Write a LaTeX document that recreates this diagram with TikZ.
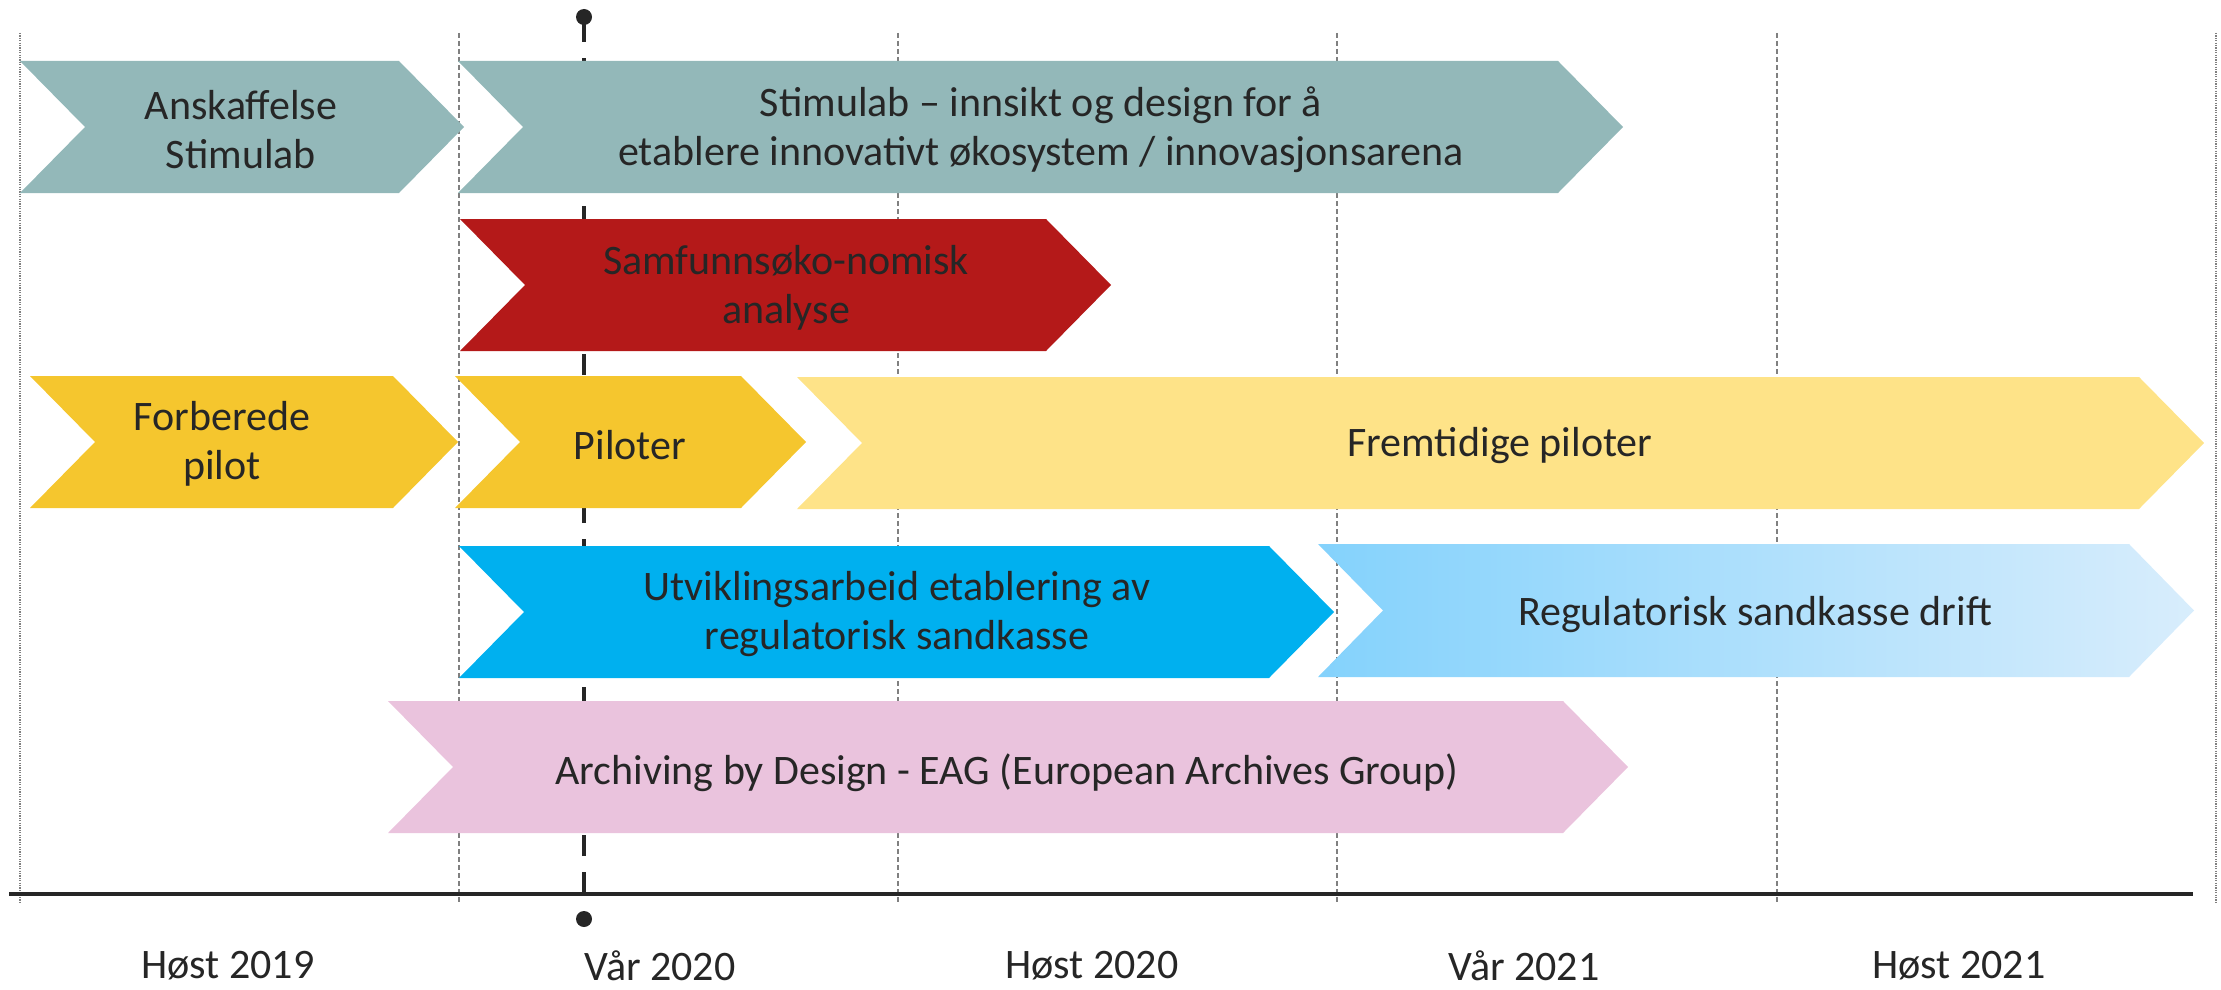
\documentclass[tikz,border=0pt]{standalone}
\usepackage{fontspec}
\setmainfont{Carlito}
\definecolor{teal1}{HTML}{93B8B9}
\definecolor{red1}{HTML}{B41919}
\definecolor{gold1}{HTML}{F5C62E}
\definecolor{ylight}{HTML}{FEE388}
\definecolor{blue1}{HTML}{00B0EF}
\definecolor{bluegA}{HTML}{84D2FC}
\definecolor{bluegB}{HTML}{D8EDFC}
\definecolor{pink1}{HTML}{EAC3DD}
\definecolor{txt}{HTML}{262626}
\definecolor{gridc}{HTML}{808080}
\newcommand{\chevronshape}[5]{% #1 options, #2 x left, #3 x tip, #4 y top, #5 y bottom
  \path[#1] (#2,#4) -- ({#3-65},#4) -- (#3,{(#4+#5)/2}) -- ({#3-65},#5) -- (#2,#5) -- ({#2+65},{(#4+#5)/2}) -- cycle;}
\begin{document}
\begin{tikzpicture}[x=0.5pt,y=-0.5pt,
  gridline/.style={draw=gridc, line width=0.6pt, dash pattern=on 2.5pt off 1.5pt},
  edgeline/.style={draw=gridc, line width=0.6pt, dash pattern=on 0.6pt off 0.6pt},
  lbl/.style={font=\fontsize{21}{24.5}\selectfont, text=txt, align=center, inner sep=0pt},
  todayline/.style={draw=txt, line width=2.25pt, dash pattern=on 10.5pt off 8pt},
  dot/.style={circle, fill=txt, minimum size=8pt, inner sep=0pt}]
\useasboundingbox (0,0) rectangle (2221,990);
% grid lines
\draw[edgeline] (20,33) -- (20,902);
\draw[edgeline] (2216,33) -- (2216,902);
\foreach \gx in {459,898,1337,1777} {\draw[gridline] (\gx,33) -- (\gx,902);}
% today line
\node[dot] (topdot) at (584,17) {};
\node[dot] (botdot) at (584,919) {};
\coordinate (axisp) at (584,893);
\draw[todayline] (axisp) -- (topdot.center);
% chevrons
\chevronshape{fill=teal1}{20}{464}{61}{193}
\chevronshape{fill=teal1}{458}{1623}{61}{193}
\chevronshape{fill=red1}{460}{1111}{219}{351}
\chevronshape{fill=gold1}{30}{458}{376}{508}
\chevronshape{fill=gold1}{455}{806}{376}{508}
\chevronshape{fill=ylight}{797}{2204}{377}{509}
\chevronshape{fill=blue1}{459}{1334}{546}{678}
\chevronshape{left color=bluegA, right color=bluegB}{1318}{2194}{544}{677}
\chevronshape{fill=pink1}{388}{1628}{701}{833}
% axis
\coordinate (axL) at (9,894);
\coordinate (axR) at (2193,894);
\draw[txt, line width=1.75pt] (axL) -- (axR);
% texts
\node[lbl] (ansk) at (241,130) {Anskaffelse\\Stimulab};
\node[lbl] (stim) at (1041,130) {Stimulab – innsikt og design for å\\etablere innovativt økosystem / innovasjonsarena};
\node[lbl] (samf) at (786,288) {Samfunnsøko-nomisk\\analyse};
\node[lbl] (forb) at (222,444) {Forberede\\pilot};
\node[lbl] (pil) at (630,445) {Piloter};
\node[lbl] (frem) at (1500,446) {Fremtidige piloter};
\node[lbl] (utv) at (897,614) {Utviklingsarbeid etablering av\\regulatorisk sandkasse};
\node[lbl] (reg) at (1755,615) {Regulatorisk sandkasse drift};
\node[lbl] (arch) at (1007,773) {Archiving by Design - EAG (European Archives Group)};
\node[lbl] (t1) at (228,966) {Høst 2019};
\node[lbl] (t2) at (660,966) {Vår 2020};
\node[lbl] (t3) at (1092,966) {Høst 2020};
\node[lbl] (t4) at (1524,966) {Vår 2021};
\node[lbl] (t5) at (1959,966) {Høst 2021};
\end{tikzpicture}
\end{document}
